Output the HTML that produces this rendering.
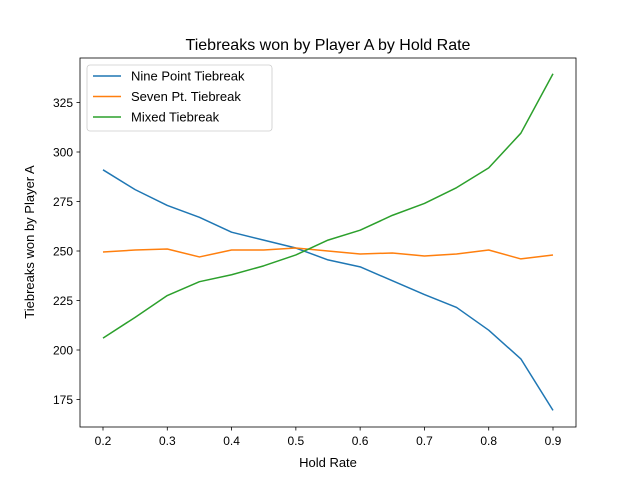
<!DOCTYPE html>
<html><head><meta charset="utf-8"><style>
body{margin:0;background:#fff;}
svg{font-family:"Liberation Sans","DejaVu Sans",sans-serif;}
</style></head><body>
<svg id="chart" width="640" height="480"></svg>
<script>
const xValues=[0.2,0.25,0.3,0.35,0.4,0.45,0.5,0.55,0.6,0.65,0.7,0.75,0.8,0.85,0.9];
const ninePoint=[291,281,273,267,259.5,255.5,251.5,245.5,242,235,228,221.5,210,195.5,169.5];
const sevenPoint=[249.5,250.5,251,247,250.5,250.5,251.5,250,248.5,249,247.5,248.5,250.5,246,248];
const mixed=[206,216.5,227.5,234.5,238,242.5,248,255.5,260.5,268,274,282,292,309.5,339.5];
const xTicks=[0.2,0.3,0.4,0.5,0.6,0.7,0.8,0.9];
const yTicks=[175,200,225,250,275,300,325];
const seriesNames=["Nine Point Tiebreak","Seven Pt. Tiebreak","Mixed Tiebreak"];
const colors=["#1f77b4","#ff7f0e","#2ca02c"];

const NS="http://www.w3.org/2000/svg";
const svg=document.getElementById('chart');
const L=80,R=576,T=58,B=427;
const xs=v=>103+(v-0.2)/0.7*450;
const ys=v=>251-(v-250)*1.98;
function mk(tag,attrs,parent){const e=document.createElementNS(NS,tag);for(const k in attrs)e.setAttribute(k,attrs[k]);(parent||svg).appendChild(e);return e;}

const title=mk('text',{x:328,y:50,'text-anchor':'middle','font-size':16});
title.textContent="Tiebreaks won by Player A by Hold Rate";



xTicks.forEach(t=>{
 const g=mk('g',{});
 
 
 mk('line',{x1:xs(t),x2:xs(t),y1:B,y2:B+3.5,stroke:'#000','stroke-width':0.8},g);
 const tx=mk('text',{x:xs(t),y:B+18,'text-anchor':'middle','font-size':12},g);tx.textContent=t.toFixed(1);
});
yTicks.forEach(t=>{
 const g=mk('g',{});
 
 
 mk('line',{x1:L-3.5,x2:L,y1:ys(t),y2:ys(t),stroke:'#000','stroke-width':0.8},g);
 const tx=mk('text',{x:L-7,y:ys(t)+4.5,'text-anchor':'end','font-size':12},g);tx.textContent=t;
});
const xl=mk('text',{x:328,y:467,'text-anchor':'middle','font-size':13});xl.textContent="Hold Rate";


const yl=mk('text',{x:0,y:0,'text-anchor':'middle','font-size':13,transform:'translate(34,242) rotate(-90)'});yl.textContent="Tiebreaks won by Player A";



[ninePoint,sevenPoint,mixed].forEach((s,i)=>{
 const p=mk('polyline',{points:s.map((v,j)=>xs(xValues[j])+','+ys(v)).join(' '),fill:'none',stroke:colors[i],'stroke-width':1.5,'stroke-linejoin':'round'});
 
 
});
const frame=mk('rect',{x:L,y:T,width:R-L,height:B-T,fill:'none',stroke:'#000','stroke-width':0.8});



const lg=mk('g',{});


mk('rect',{x:87,y:65,width:185,height:66,rx:3,fill:'#fff',stroke:'#ccc','stroke-width':0.8},lg);
seriesNames.forEach((n,i)=>{
 const y=76+i*20.5;
 const e=mk('g',{},lg);
 
 
 mk('line',{x1:93,x2:121,y1:y,y2:y,stroke:colors[i],'stroke-width':1.5},e);
 const t=mk('text',{x:131,y:y+4.5,'font-size':13},e);t.textContent=n;
});
</script>
</body></html>
